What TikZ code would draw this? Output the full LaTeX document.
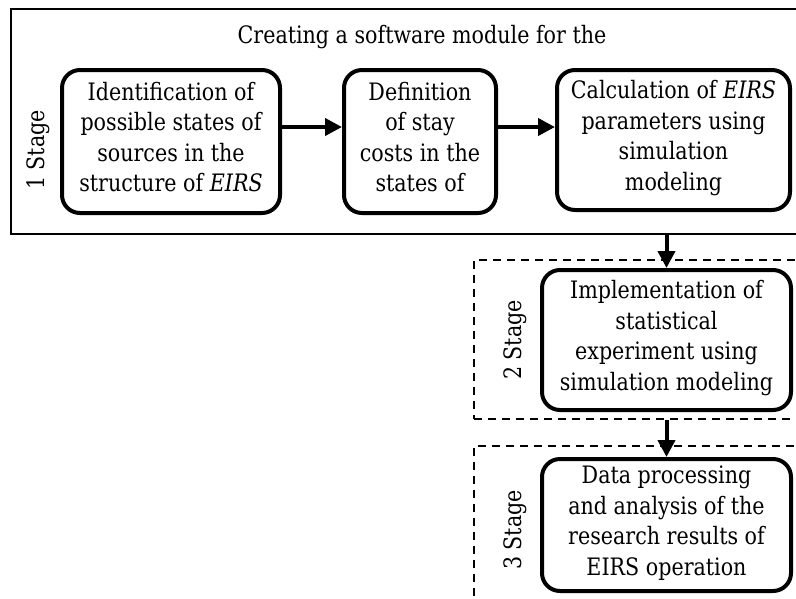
\documentclass[tikz,border=0pt]{standalone}
\usepackage{fontspec}
\setmainfont[FakeStretch=0.86]{DejaVu Serif}
\usetikzlibrary{arrows.meta}

\tikzset{
  stepbox/.style={draw, line width=4pt, rounded corners=18pt, align=center,
    inner sep=0pt, font=\fontsize{24}{30.5}\selectfont,
    execute at begin node=\strut, execute at end node=\strut},
  framesolid/.style={draw, line width=2pt, anchor=north west, inner sep=0pt},
  framedash/.style={draw, line width=2pt, dash pattern=on 8pt off 6pt,
    anchor=north west, inner sep=0pt},
  stagelabel/.style={rotate=90, font=\fontsize{24}{30.5}\selectfont},
  flow/.style={line width=4pt, -{Triangle[length=17pt,width=17pt]}},
}

\begin{document}
\begin{tikzpicture}[x=1pt,y=-1pt]
\useasboundingbox (0,0) rectangle (796,598);
\clip (0,0) rectangle (796,598);

% stage frames
\node[framesolid, minimum width=800pt, minimum height=225pt] (stage1) at (10,8) {};
\node[framedash, minimum width=340pt, minimum height=159pt] (stage2) at (473,259) {};
\node[framedash, minimum width=340pt, minimum height=200pt] (stage3) at (473,445) {};

% headings
\node[font=\fontsize{24}{30.5}\selectfont] (title) at (422,37) {Creating a software module for the};
\node[stagelabel] (lab1) at (38,150) {1 Stage};
\node[stagelabel] (lab2) at (515,340) {2 Stage};
\node[stagelabel] (lab3) at (515,530) {3 Stage};

% process steps
\node[stepbox, minimum width=218pt, minimum height=143pt] (ident) at (171,141.5)
  {Identification of\\possible states of\\sources in the\\structure of \textit{EIRS}};
\node[stepbox, minimum width=152pt, minimum height=143pt] (costs) at (420,141.5)
  {Definition\\of stay\\costs in the\\states of};
\node[stepbox, minimum width=233pt, minimum height=140pt] (calc) at (673.5,140)
  {Calculation of \textit{EIRS}\\parameters using\\simulation\\modeling};
\node[stepbox, minimum width=249pt, minimum height=140pt] (impl) at (666.5,340)
  {Implementation of\\statistical\\experiment using\\simulation modeling};
% taller first-line strut sets this text a little lower in its box
\node[stepbox, minimum width=249pt, minimum height=132pt,
      execute at begin node={\rule{0pt}{31pt}}] (data) at (666.5,525)
  {Data processing\\and analysis of the\\research results of\\EIRS operation};

% connectors
\draw[flow] (ident.east |- 0,127) -- (costs.west |- 0,127);
\draw[flow] (costs.east |- 0,127) -- (calc.west |- 0,127);
\draw[flow] (stage1.south -| impl.north) -- (impl.north);
\draw[flow] (stage2.south -| data.north) -- (data.north);
\end{tikzpicture}
\end{document}
